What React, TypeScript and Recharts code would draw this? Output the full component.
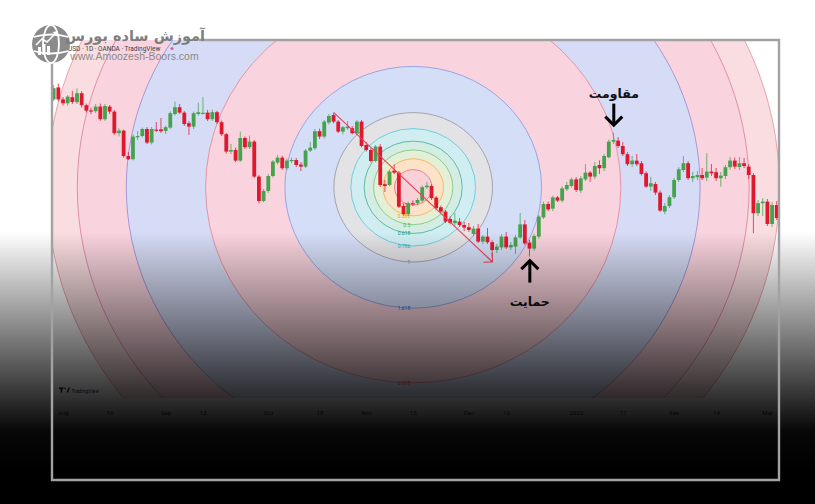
import React from "react";
import {
  ComposedChart,
  Bar,
  XAxis,
  YAxis,
  ReferenceArea,
  ReferenceLine,
  ReferenceDot,
} from "recharts";

// Trading days shown on the daily chart, grouped by month
const tradingDays: [string, number[]][] = [
  ["2021-07", [29, 30]],
  ["2021-08", [2, 3, 4, 5, 6, 9, 10, 11, 12, 13, 16, 17, 18, 19, 20, 23, 24, 25, 26, 27, 30, 31]],
  ["2021-09", [1, 2, 3, 6, 7, 8, 9, 10, 13, 14, 15, 16, 17, 20, 21, 22, 23, 24, 27, 28, 29, 30]],
  ["2021-10", [1, 4, 5, 6, 7, 8, 11, 12, 13, 14, 15, 18, 19, 20, 21, 22, 25, 26, 27, 28, 29]],
  ["2021-11", [1, 2, 3, 4, 5, 8, 9, 10, 11, 12, 15, 16, 17, 18, 19, 22, 23, 24, 25, 26, 29, 30]],
  ["2021-12", [1, 2, 3, 6, 7, 8, 9, 10, 13, 14, 15, 16, 17, 20, 21, 22, 23, 24, 27, 28, 29, 30, 31]],
  ["2022-01", [3, 4, 5, 6, 7, 10, 11, 12, 13, 14, 17, 18, 19, 20, 21, 24, 25, 26, 27, 28, 31]],
  ["2022-02", [1, 2, 3, 4, 7, 8, 9, 10, 11, 14, 15, 16, 17, 18, 21, 22, 23, 24, 25, 28]],
  ["2022-03", [1, 2, 3]],
];
const dates: string[] = tradingDays.flatMap(([m, days]) =>
  days.map((d) => `${m}-${String(d).padStart(2, "0")}`)
);

const opens = [
  1.3903, 1.3963, 1.3903, 1.3884, 1.3914, 1.3889, 1.3934, 1.3874, 1.3848, 1.3844,
  1.3867, 1.3804, 1.3867, 1.3842, 1.3734, 1.3747, 1.362, 1.3604, 1.3714, 1.372,
  1.3755, 1.3687, 1.3752, 1.3753, 1.3745, 1.3762, 1.383, 1.3864, 1.3837, 1.3784,
  1.3767, 1.383, 1.3835, 1.3837, 1.3804, 1.3839, 1.3789, 1.3729, 1.3642, 1.365,
  1.3597, 1.371, 1.3664, 1.3692, 1.3517, 1.3395, 1.3445, 1.352, 1.3587, 1.3612,
  1.3559, 1.3598, 1.36, 1.3577, 1.3567, 1.3647, 1.3659, 1.3744, 1.3717, 1.3787,
  1.3825, 1.3792, 1.3742, 1.3759, 1.3759, 1.3734, 1.3792, 1.3675, 1.365, 1.3595,
  1.3667, 1.3479, 1.3475, 1.3547, 1.3537, 1.337, 1.333, 1.3384, 1.3384, 1.3397,
  1.3464, 1.347, 1.3412, 1.3364, 1.3342, 1.3305, 1.3284, 1.3292, 1.3275, 1.3264,
  1.323, 1.3257, 1.3192, 1.3217, 1.3189, 1.315, 1.3163, 1.3217, 1.3163, 1.3167,
  1.3213, 1.3278, 1.3187, 1.3157, 1.3217, 1.3313, 1.338, 1.3357, 1.3413, 1.3397,
  1.3454, 1.347, 1.3503, 1.3447, 1.3503, 1.3537, 1.3517, 1.3575, 1.3559, 1.3614,
  1.3692, 1.3697, 1.367, 1.3629, 1.3579, 1.3597, 1.3584, 1.3534, 1.3467, 1.348,
  1.3437, 1.3342, 1.337, 1.3414, 1.35, 1.355, 1.3584, 1.3509, 1.3514, 1.3525,
  1.3512, 1.3542, 1.3539, 1.3509, 1.352, 1.3564, 1.3597, 1.3565, 1.3584, 1.3567,
  1.3525, 1.3334, 1.3384, 1.3392, 1.328, 1.3375,
];
const highs = [
  1.3975, 1.3982, 1.3915, 1.3925, 1.3945, 1.3958, 1.3944, 1.3882, 1.3862, 1.388,
  1.3882, 1.388, 1.3875, 1.385, 1.3758, 1.3752, 1.364, 1.3728, 1.3745, 1.3762,
  1.3765, 1.3765, 1.379, 1.381, 1.3772, 1.3842, 1.3892, 1.388, 1.3845, 1.3795,
  1.3842, 1.3887, 1.3914, 1.385, 1.3852, 1.3846, 1.3797, 1.3735, 1.368, 1.3662,
  1.3742, 1.3718, 1.3722, 1.37, 1.3525, 1.3455, 1.353, 1.36, 1.3625, 1.3622,
  1.3607, 1.3612, 1.361, 1.359, 1.3655, 1.369, 1.3755, 1.3757, 1.38, 1.383,
  1.3837, 1.38, 1.377, 1.3795, 1.377, 1.38, 1.38, 1.369, 1.366, 1.3675,
  1.368, 1.35, 1.355, 1.3578, 1.3545, 1.338, 1.3392, 1.3398, 1.341, 1.3472,
  1.349, 1.3478, 1.342, 1.3372, 1.335, 1.3318, 1.3335, 1.331, 1.329, 1.3285,
  1.327, 1.328, 1.3225, 1.326, 1.3198, 1.318, 1.323, 1.324, 1.319, 1.3225,
  1.3335, 1.33, 1.32, 1.3232, 1.3325, 1.3392, 1.3392, 1.3422, 1.342, 1.3468,
  1.349, 1.3512, 1.3515, 1.352, 1.358, 1.3545, 1.359, 1.3598, 1.363, 1.3702,
  1.3737, 1.3715, 1.369, 1.364, 1.362, 1.363, 1.3595, 1.3545, 1.3515, 1.349,
  1.3448, 1.3385, 1.3425, 1.351, 1.3565, 1.362, 1.3595, 1.354, 1.3545, 1.356,
  1.3634, 1.358, 1.356, 1.354, 1.3575, 1.3615, 1.3612, 1.3615, 1.361, 1.358,
  1.3535, 1.34, 1.341, 1.3405, 1.339, 1.3395,
];
const lows = [
  1.3895, 1.3893, 1.3872, 1.3872, 1.388, 1.388, 1.3862, 1.3838, 1.383, 1.3835,
  1.3796, 1.3796, 1.383, 1.3725, 1.3718, 1.3612, 1.36, 1.3598, 1.37, 1.3712,
  1.368, 1.3678, 1.374, 1.3735, 1.373, 1.3755, 1.3822, 1.383, 1.377, 1.3725,
  1.3755, 1.3822, 1.3828, 1.3795, 1.3795, 1.378, 1.372, 1.3632, 1.363, 1.359,
  1.359, 1.3655, 1.3655, 1.351, 1.3383, 1.3388, 1.3435, 1.3512, 1.3578, 1.355,
  1.355, 1.3585, 1.3565, 1.3545, 1.356, 1.364, 1.365, 1.3705, 1.3707, 1.3778,
  1.3783, 1.3735, 1.3728, 1.375, 1.3728, 1.3725, 1.3662, 1.3642, 1.3588, 1.3588,
  1.3465, 1.344, 1.3468, 1.353, 1.336, 1.3322, 1.332, 1.337, 1.3375, 1.339,
  1.3455, 1.34, 1.335, 1.3335, 1.3285, 1.3278, 1.327, 1.3265, 1.3245, 1.324,
  1.322, 1.3185, 1.318, 1.318, 1.3115, 1.3135, 1.315, 1.3155, 1.315, 1.313,
  1.3205, 1.3175, 1.3117, 1.3145, 1.3205, 1.3305, 1.3345, 1.3345, 1.339, 1.3388,
  1.3445, 1.3462, 1.344, 1.3435, 1.3495, 1.349, 1.3505, 1.353, 1.3545, 1.3608,
  1.368, 1.366, 1.362, 1.357, 1.3565, 1.357, 1.3522, 1.346, 1.3445, 1.3425,
  1.334, 1.3329, 1.336, 1.3405, 1.349, 1.354, 1.35, 1.349, 1.35, 1.35,
  1.3495, 1.352, 1.3495, 1.3467, 1.3505, 1.355, 1.3555, 1.355, 1.356, 1.3505,
  1.3234, 1.332, 1.332, 1.327, 1.3265, 1.33,
];
const closes = [
  1.3959, 1.3903, 1.3884, 1.3917, 1.389, 1.3934, 1.3874, 1.3847, 1.3844, 1.3867,
  1.3804, 1.387, 1.3842, 1.3734, 1.3747, 1.362, 1.3604, 1.3717, 1.372, 1.3755,
  1.3687, 1.3755, 1.3749, 1.3744, 1.3764, 1.3834, 1.3864, 1.3837, 1.378, 1.3767,
  1.3834, 1.3839, 1.3836, 1.3804, 1.3839, 1.3789, 1.3729, 1.3642, 1.365, 1.3597,
  1.371, 1.3664, 1.3692, 1.3517, 1.3395, 1.3445, 1.352, 1.3592, 1.3612, 1.3559,
  1.3597, 1.36, 1.3575, 1.3567, 1.3647, 1.3662, 1.3744, 1.3717, 1.3792, 1.382,
  1.3792, 1.3742, 1.3764, 1.3767, 1.3734, 1.3792, 1.367, 1.365, 1.3595, 1.3667,
  1.3475, 1.347, 1.3542, 1.3537, 1.3367, 1.333, 1.3384, 1.3382, 1.34, 1.3464,
  1.3472, 1.3409, 1.3359, 1.3342, 1.3292, 1.3285, 1.3297, 1.3275, 1.3262, 1.325,
  1.3257, 1.3192, 1.3217, 1.3189, 1.315, 1.3167, 1.3217, 1.3163, 1.3175, 1.3213,
  1.3278, 1.3183, 1.3157, 1.322, 1.3317, 1.338, 1.3353, 1.3413, 1.3397, 1.3458,
  1.3475, 1.3503, 1.345, 1.3508, 1.3537, 1.3517, 1.357, 1.3559, 1.362, 1.3692,
  1.37, 1.367, 1.3629, 1.3579, 1.3597, 1.3579, 1.353, 1.3467, 1.3484, 1.3437,
  1.3347, 1.337, 1.3414, 1.35, 1.3554, 1.3584, 1.3509, 1.352, 1.3525, 1.3509,
  1.3542, 1.3534, 1.3509, 1.3522, 1.3564, 1.3597, 1.3567, 1.3584, 1.357, 1.3525,
  1.3334, 1.3384, 1.3392, 1.328, 1.3375, 1.331,
];

// Time-axis labels
const tickDates = [
  "2021-08-02", "2021-08-16", "2021-09-01", "2021-09-13", "2021-10-01",
  "2021-10-18", "2021-11-01", "2021-11-15", "2021-12-01", "2021-12-13",
  "2022-01-03", "2022-01-17", "2022-02-01", "2022-02-14", "2022-03-01",
];
const tickLabels = [
  "Aug", "16", "Sep", "13", "Oct", "18", "Nov", "15", "Dec", "13",
  "2022", "17", "Feb", "14", "Mar",
];

// Fibonacci circles: anchored on the October high and the December low
const fibStart = { date: "2021-10-21", price: 1.3837 };
const fibEnd = { date: "2021-12-08", price: 1.309 };
const fibLevels = [0.236, 0.382, 0.5, 0.618, 0.786, 1, 1.618, 2.618, 3.618, 4.236, 4.618];
// level labels sit at the bottom of each ring; the outer ones fall below the pane
const fibLabelShown = [true, true, true, true, true, true, true, true, false, false, false];
const fibFills = [
  "#f8d1d8", "#fce2c6", "#e3f0d7", "#d3ede4", "#d0eef2", "#e3e3e6",
  "#d5def7", "#f9d3dd", "#d6dcf6", "#f9d3de", "#f9dde0",
];
const fibStrokes = [
  "#ee7f8b", "#f7b866", "#8fcc8c", "#5fb9a6", "#6cd0de", "#a2a4ad",
  "#97a5e6", "#e594a8", "#a598d6", "#e08fab", "#e7a3ad",
];
const fibText = [
  "#f23645", "#ff9800", "#4caf50", "#089981", "#00bcd4", "#787b86",
  "#2962ff", "#f23645", "#9c27b0", "#e91e63", "#f23645",
];

// Chart annotations
const resistance = { date: "2022-01-13", label: "مقاومت" };
const support = { date: "2021-12-20", label: "حمایت" };

const GREEN = "#46a34d";
const RED = "#e0182e";

const idxOf = (d: string) => dates.indexOf(d);
const rows = dates.map((date, i) => ({
  i,
  date,
  open: opens[i],
  high: highs[i],
  low: lows[i],
  close: closes[i],
}));

const fx1 = idxOf(fibStart.date);
const fx2 = idxOf(fibEnd.date);
const fibCx = (fx1 + fx2) / 2;
const fibCy = (fibStart.price + fibEnd.price) / 2;
const fibHx = Math.abs(fx2 - fx1) / 2;
const fibHy = Math.abs(fibStart.price - fibEnd.price) / 2;

const tickIdx = tickDates.map(idxOf);

const Candle = (p: any) => {
  const { x, y, width, height, payload } = p;
  if (!payload || x == null) return null;
  const { open, close, high, low } = payload;
  const top0 = Math.min(y, y + height);
  const h = Math.abs(height);
  const cx = x + width / 2;
  const span = high - low || 1e-9;
  const py = (v: number) => top0 + ((high - v) / span) * h;
  const color = close >= open ? GREEN : RED;
  const bTop = py(Math.max(open, close));
  const bBot = py(Math.min(open, close));
  return (
    <g>
      <line x1={cx} x2={cx} y1={top0} y2={top0 + h} stroke={color} strokeWidth={1} strokeOpacity={0.75} />
      <rect x={cx - 1.9} y={bTop} width={3.8} height={Math.max(1.2, bBot - bTop)} fill={color} />
    </g>
  );
};

const FibRing = (p: any) => {
  const { x, y, width, height, clipPath, k } = p;
  if (x == null) return null;
  const cx = x + width / 2;
  const cy = y + height / 2;
  return (
    <g clipPath={clipPath}>
      <ellipse
        cx={cx}
        cy={cy}
        rx={width / 2}
        ry={height / 2}
        fill={fibFills[k]}
        stroke={fibStrokes[k]}
        strokeWidth={1}
      />
      {fibLabelShown[k] && (
        <text
          x={cx - 3}
          y={cy + height / 2}
          textAnchor="end"
          dominantBaseline="central"
          fontSize={5}
          fontFamily="Roboto, sans-serif"
          fill={fibText[k]}
        >
          {String(fibLevels[k])}
        </text>
      )}
    </g>
  );
};

const TrendArrow = (p: any) => {
  const { x1, y1, x2, y2 } = p;
  if (x1 == null) return null;
  const len = Math.hypot(x2 - x1, y2 - y1) || 1;
  const ux = (x1 - x2) / len;
  const uy = (y1 - y2) / len;
  const a = Math.PI / 4;
  const w = 9;
  const r1x = ux * Math.cos(a) - uy * Math.sin(a);
  const r1y = ux * Math.sin(a) + uy * Math.cos(a);
  const r2x = ux * Math.cos(-a) - uy * Math.sin(-a);
  const r2y = ux * Math.sin(-a) + uy * Math.cos(-a);
  return (
    <g stroke="#e8435a" strokeWidth={1.1} fill="none">
      <line x1={x1} y1={y1} x2={x2} y2={y2} />
      <line x1={x2} y1={y2} x2={x2 + r1x * w} y2={y2 + r1y * w} />
      <line x1={x2} y1={y2} x2={x2 + r2x * w} y2={y2 + r2y * w} />
    </g>
  );
};

const DownMarker = (p: any) => {
  const { cx, cy, text } = p;
  if (cx == null) return null;
  const tip = cy - 7.5;
  return (
    <g>
      <text
        x={cx}
        y={cy - 39.5}
        textAnchor="middle"
        dominantBaseline="central"
        fontSize={12.5}
        fontWeight="bold"
        fontFamily="'DejaVu Sans', sans-serif"
        fill="#111"
      >
        {text}
      </text>
      <g stroke="#000" strokeWidth={3} fill="none">
        <line x1={cx} y1={cy - 29} x2={cx} y2={tip - 1} />
        <polyline points={`${cx - 8.5},${tip - 8.5} ${cx},${tip} ${cx + 8.5},${tip - 8.5}`} />
      </g>
    </g>
  );
};

const UpMarker = (p: any) => {
  const { cx, cy, text } = p;
  if (cx == null) return null;
  const tip = cy + 4;
  return (
    <g>
      <g stroke="#000" strokeWidth={3} fill="none">
        <line x1={cx} y1={tip + 1} x2={cx} y2={cy + 26} />
        <polyline points={`${cx - 8.5},${tip + 8.5} ${cx},${tip} ${cx + 8.5},${tip + 8.5}`} />
      </g>
      <text
        x={cx}
        y={cy + 44.5}
        textAnchor="middle"
        dominantBaseline="central"
        fontSize={12.5}
        fontWeight="bold"
        fontFamily="'DejaVu Sans', sans-serif"
        fill="#111"
      >
        {text}
      </text>
    </g>
  );
};

const AxisTick = (p: any) => {
  const { x, y, payload } = p;
  const at = tickIdx.indexOf(payload.value);
  return (
    <text
      x={x}
      y={y + 7}
      textAnchor="middle"
      dominantBaseline="central"
      fontSize={6.2}
      fontFamily="Roboto, sans-serif"
      fill="#2a2e39"
    >
      {at >= 0 ? tickLabels[at] : ""}
    </text>
  );
};

export default function App() {
  const W = 815;
  const H = 504;
  const rIdx = idxOf(resistance.date);
  const sIdx = idxOf(support.date);
  return (
    <div
      style={{
        position: "absolute",
        left: 0,
        top: 0,
        width: W,
        height: H,
        overflow: "hidden",
        background: "#ffffff",
      }}
    >
      <ComposedChart
        width={W}
        height={H}
        data={rows}
        margin={{ top: 40, right: 37, bottom: 86, left: 52 }}
      >
        <XAxis
          dataKey="i"
          type="number"
          domain={[-0.43, 155.2]}
          allowDataOverflow
          ticks={tickIdx}
          interval={0}
          height={20}
          axisLine={false}
          tickLine={false}
          tick={<AxisTick />}
        />
        <YAxis type="number" domain={[1.241, 1.42]} allowDataOverflow hide />
        {fibLevels
          .map((lv, k) => ({ lv, k }))
          .reverse()
          .map(({ lv, k }) => (
            <ReferenceArea
              key={lv}
              x1={fibCx - fibHx * lv}
              x2={fibCx + fibHx * lv}
              y1={fibCy - fibHy * lv}
              y2={fibCy + fibHy * lv}
              ifOverflow="hidden"
              shape={(p: any) => <FibRing {...p} k={k} />}
            />
          ))}
        <ReferenceLine
          segment={[
            { x: fx1, y: fibStart.price },
            { x: fx2, y: fibEnd.price },
          ]}
          ifOverflow="visible"
          shape={(p: any) => <TrendArrow {...p} />}
        />
        <Bar
          dataKey={(d: any) => [d.low, d.high]}
          barSize={4}
          isAnimationActive={false}
          shape={(p: any) => <Candle {...p} />}
        />
        <ReferenceDot
          x={rIdx}
          y={highs[rIdx]}
          r={1}
          shape={(p: any) => <DownMarker {...p} text={resistance.label} />}
        />
        <ReferenceDot
          x={sIdx}
          y={lows[sIdx]}
          r={1}
          shape={(p: any) => <UpMarker {...p} text={support.label} />}
        />
      </ComposedChart>

      {/* TradingView watermark and header */}
      <svg
        width={W}
        height={H}
        style={{ position: "absolute", left: 0, top: 0, pointerEvents: "none" }}
      >
        <g fill="#1e222d">
          <rect x={59} y={387.5} width={4.5} height={1.6} />
          <rect x={60.6} y={387.5} width={1.6} height={5} />
          <circle cx={65} cy={388.3} r={0.9} />
          <polygon points="66.6,392.5 68.4,387.5 70,387.5 68.2,392.5" />
        </g>
        <text x={71.5} y={390.5} fontSize={5} fontFamily="Roboto, sans-serif" fill="#1e222d" dominantBaseline="central">
          TradingView
        </text>
        <text x={68} y={48.5} fontSize={6.5} fontFamily="Roboto, sans-serif" fill="#3a3d46" dominantBaseline="central">
          USD · 1D · OANDA · TradingView
        </text>
        <circle cx={172} cy={48.5} r={1.6} fill="#d45fa0" />
      </svg>

      {/* darkening toward the bottom */}
      <div
        style={{
          position: "absolute",
          left: 0,
          top: 0,
          width: W,
          height: H,
          pointerEvents: "none",
          background:
            "linear-gradient(180deg, rgba(0,0,0,0) 0px, rgba(0,0,0,0) 232px, rgba(0,0,0,0.5) 335px, rgba(0,0,0,0.97) 430px, #000 470px)",
        }}
      />

      {/* frame and brand mark */}
      <svg
        width={W}
        height={H}
        style={{ position: "absolute", left: 0, top: 0, pointerEvents: "none" }}
      >
        <g stroke="#a2a2a2" strokeWidth={2.4} fill="none">
          <line x1={199} y1={40} x2={780} y2={40} />
          <line x1={779} y1={39} x2={779} y2={481} />
          <line x1={51} y1={480} x2={780} y2={480} />
          <line x1={52} y1={60} x2={52} y2={481} />
        </g>
        <g>
          <circle cx={51} cy={44} r={19} fill="#8b8b8b" />
          <ellipse cx={51} cy={44} rx={8} ry={19} fill="none" stroke="#ffffff" strokeWidth={1.8} />
          <path d="M33.5 37 Q51 32 68.5 37" fill="none" stroke="#ffffff" strokeWidth={1.8} />
          <path d="M33.5 51 Q51 56 68.5 51" fill="none" stroke="#ffffff" strokeWidth={1.8} />
          <rect x={38} y={47} width={3} height={8} fill="#ffffff" />
          <rect x={42.5} y={44} width={3} height={11} fill="#ffffff" />
          <rect x={47} y={46} width={3} height={9} fill="#ffffff" />
          <polyline points="36,45 42,39 47,42 56,33" fill="none" stroke="#ffffff" strokeWidth={1.6} />
          <polygon points="52.5,32 58,31 57,36.5" fill="#ffffff" />
        </g>
        <text
          x={135}
          y={36}
          textAnchor="middle"
          dominantBaseline="central"
          fontSize={14.5}
          fontWeight="bold"
          fontFamily="'DejaVu Sans', sans-serif"
          fill="#7d7d7d"
        >
          آموزش ساده بورس
        </text>
        <text
          x={134.5}
          y={55.5}
          textAnchor="middle"
          dominantBaseline="central"
          fontSize={10.5}
          fontFamily="'Liberation Sans', Arial, sans-serif"
          fill="rgba(125,125,125,0.9)"
        >
          www.Amoozesh-Boors.com
        </text>
      </svg>
    </div>
  );
}
